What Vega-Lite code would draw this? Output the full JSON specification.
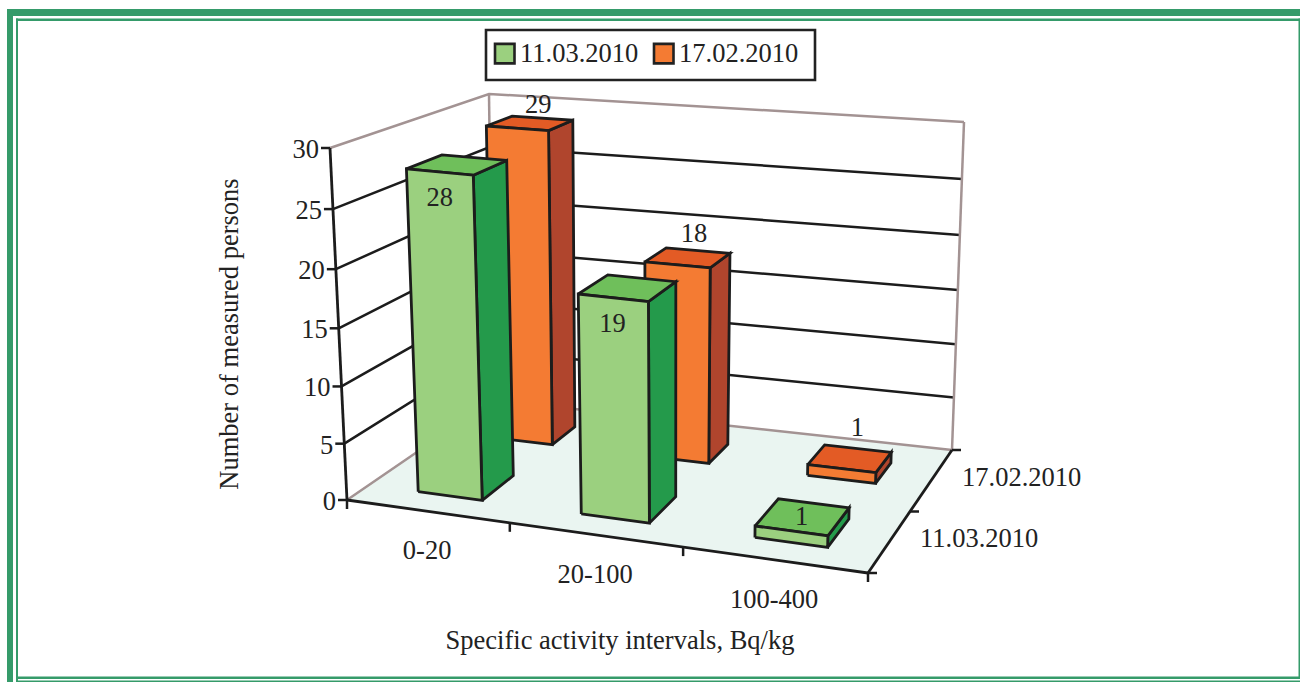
{"$schema":"https://vega.github.io/schema/vega-lite/v6.json","width":1300,"height":682,"padding":0,"autosize":{"type":"fit","contains":"padding"},"background":"white","config":{"view":{"stroke":null},"text":{"font":"Liberation Serif","fontSize":26.5,"color":"#222"}},
"datasets":{
"bars":[{"series":"17.02.2010","interval":"0-20","value":29},{"series":"17.02.2010","interval":"20-100","value":18},{"series":"17.02.2010","interval":"100-400","value":1},{"series":"11.03.2010","interval":"0-20","value":28},{"series":"11.03.2010","interval":"20-100","value":19},{"series":"11.03.2010","interval":"100-400","value":1}],
"grid":[{"value":0},{"value":5},{"value":10},{"value":15},{"value":20},{"value":25},{"value":30}],
"cats":[{"interval":"0-20","at":0.5},{"interval":"20-100","at":1.5},{"interval":"100-400","at":2.5}],
"depths":[{"series":"11.03.2010","at":0.25},{"series":"17.02.2010","at":0.75}],
"uticks":[{"at":0},{"at":1},{"at":2},{"at":3}],
"vticks":[{"at":0},{"at":0.5},{"at":1}],
"frames":[{"frame":"outerLeft"},{"frame":"outerTop"},{"frame":"innerLeft"},{"frame":"innerTop"},{"frame":"bottom"},{"frame":"bottomThin"},{"frame":"right"}]
},
"encoding":{"x":{"field":"px","type":"quantitative","scale":{"domain":[0,1300],"nice":false,"zero":false},"axis":null},"y":{"field":"py","type":"quantitative","scale":{"domain":[682,0],"nice":false,"zero":false},"axis":null}},
"layer":[
{"data":{"name":"frames"},"transform":[
{"calculate":"{outerLeft:7,outerTop:7,innerLeft:16,innerTop:16,bottom:16,bottomThin:16,right:1298.5}[datum.frame]","as":"px"},
{"calculate":"{outerLeft:13,outerTop:1300,innerLeft:18,innerTop:1300,bottom:1300,bottomThin:1300,right:1300}[datum.frame]","as":"px2"},
{"calculate":"{outerLeft:9,outerTop:9,innerLeft:18.5,innerTop:18.5,bottom:676.5,bottomThin:680.5,right:18.5}[datum.frame]","as":"py"},
{"calculate":"{outerLeft:682,outerTop:16,innerLeft:682,innerTop:21,bottom:679,bottomThin:682,right:679}[datum.frame]","as":"py2"}],
"mark":{"type":"rect","fill":"#359B6A"},"encoding":{"x2":{"field":"px2"},"y2":{"field":"py2"}}},

{"data":{"values":[{"box":"legend"}]},"transform":[{"calculate":"486","as":"px"},{"calculate":"815","as":"px2"},{"calculate":"30","as":"py"},{"calculate":"80","as":"py2"}],"mark":{"type":"rect","fill":"white","stroke":"#222","strokeWidth":2.6},"encoding":{"x2":{"field":"px2"},"y2":{"field":"py2"}}},

{"data":{"name":"grid"},"transform":[{"filter":"datum.value==0"},{"calculate":"[0,1,2,3,4]","as":"vs"},{"flatten":["vs"],"as":["vertex"]},{"calculate":"[0,3,3,0,0][datum.vertex]","as":"u"},{"calculate":"[0,0,1,1,0][datum.vertex]","as":"v"},{"calculate":"0","as":"h"},
{"calculate":"datum.u/(datum.u+1.1*(3-datum.u))","as":"tu"},{"calculate":"datum.h/(datum.h+1.05*(30-datum.h))","as":"th"},
{"calculate":"(1-datum.th)*((1-datum.v)*((1-datum.tu)*347+datum.tu*868)+datum.v*((1-datum.tu)*493+datum.tu*952))+datum.th*((1-datum.v)*((1-datum.tu)*330+datum.tu*877)+datum.v*((1-datum.tu)*489+datum.tu*964))","as":"px"},
{"calculate":"(1-datum.th)*((1-datum.v)*((1-datum.tu)*500+datum.tu*573)+datum.v*((1-datum.tu)*400+datum.tu*450))+datum.th*((1-datum.v)*((1-datum.tu)*148+datum.tu*201)+datum.v*((1-datum.tu)*94+datum.tu*122))","as":"py"}],
"mark":{"type":"line","fill":"#EAF5F1","stroke":null},"encoding":{"order":{"field":"vertex","type":"quantitative"}}},

{"data":{"name":"grid"},"transform":[{"calculate":"[0,1,2]","as":"vs"},{"flatten":["vs"],"as":["vertex"]},{"calculate":"[0,0,3][datum.vertex]","as":"u"},{"calculate":"[0,1,1][datum.vertex]","as":"v"},{"calculate":"datum.value","as":"h"},
{"calculate":"datum.u/(datum.u+1.1*(3-datum.u))","as":"tu"},{"calculate":"datum.h/(datum.h+1.05*(30-datum.h))","as":"th"},
{"calculate":"(1-datum.th)*((1-datum.v)*((1-datum.tu)*347+datum.tu*868)+datum.v*((1-datum.tu)*493+datum.tu*952))+datum.th*((1-datum.v)*((1-datum.tu)*330+datum.tu*877)+datum.v*((1-datum.tu)*489+datum.tu*964))","as":"px"},
{"calculate":"(1-datum.th)*((1-datum.v)*((1-datum.tu)*500+datum.tu*573)+datum.v*((1-datum.tu)*400+datum.tu*450))+datum.th*((1-datum.v)*((1-datum.tu)*148+datum.tu*201)+datum.v*((1-datum.tu)*94+datum.tu*122))","as":"py"},
{"calculate":"datum.value==0||datum.value==30?'#A39393':'#1c1c1c'","as":"gc"}],
"mark":{"type":"line","strokeWidth":2.5},"encoding":{"stroke":{"field":"gc","type":"nominal","scale":null,"legend":null},"detail":{"field":"value","type":"quantitative"},"order":{"field":"vertex","type":"quantitative"}}},

{"data":{"name":"uticks"},"transform":[{"filter":"datum.at==0||datum.at==3"},{"calculate":"[0,1]","as":"vs"},{"flatten":["vs"],"as":["vertex"]},{"calculate":"datum.at","as":"u"},{"calculate":"1","as":"v"},{"calculate":"datum.vertex*30","as":"h"},
{"calculate":"datum.u/(datum.u+1.1*(3-datum.u))","as":"tu"},{"calculate":"datum.h/(datum.h+1.05*(30-datum.h))","as":"th"},
{"calculate":"(1-datum.th)*((1-datum.v)*((1-datum.tu)*347+datum.tu*868)+datum.v*((1-datum.tu)*493+datum.tu*952))+datum.th*((1-datum.v)*((1-datum.tu)*330+datum.tu*877)+datum.v*((1-datum.tu)*489+datum.tu*964))","as":"px"},
{"calculate":"(1-datum.th)*((1-datum.v)*((1-datum.tu)*500+datum.tu*573)+datum.v*((1-datum.tu)*400+datum.tu*450))+datum.th*((1-datum.v)*((1-datum.tu)*148+datum.tu*201)+datum.v*((1-datum.tu)*94+datum.tu*122))","as":"py"}],
"mark":{"type":"line","strokeWidth":2.5,"stroke":"#A39393"},"encoding":{"detail":{"field":"at","type":"quantitative"},"order":{"field":"vertex","type":"quantitative"}}},

{"data":{"values":[{"edge":"height","vertex":0,"u":0,"v":0,"h":0},{"edge":"height","vertex":1,"u":0,"v":0,"h":30},{"edge":"front","vertex":0,"u":0,"v":0,"h":0},{"edge":"front","vertex":1,"u":3,"v":0,"h":0},{"edge":"side","vertex":0,"u":3,"v":0,"h":0},{"edge":"side","vertex":1,"u":3,"v":1,"h":0}]},"transform":[
{"calculate":"datum.u/(datum.u+1.1*(3-datum.u))","as":"tu"},{"calculate":"datum.h/(datum.h+1.05*(30-datum.h))","as":"th"},
{"calculate":"(1-datum.th)*((1-datum.v)*((1-datum.tu)*347+datum.tu*868)+datum.v*((1-datum.tu)*493+datum.tu*952))+datum.th*((1-datum.v)*((1-datum.tu)*330+datum.tu*877)+datum.v*((1-datum.tu)*489+datum.tu*964))","as":"px"},
{"calculate":"(1-datum.th)*((1-datum.v)*((1-datum.tu)*500+datum.tu*573)+datum.v*((1-datum.tu)*400+datum.tu*450))+datum.th*((1-datum.v)*((1-datum.tu)*148+datum.tu*201)+datum.v*((1-datum.tu)*94+datum.tu*122))","as":"py"}],
"mark":{"type":"line","strokeWidth":2.8,"stroke":"#1c1c1c"},"encoding":{"detail":{"field":"edge","type":"nominal"},"order":{"field":"vertex","type":"quantitative"}}},

{"data":{"name":"grid"},"transform":[{"calculate":"0","as":"u"},{"calculate":"0","as":"v"},{"calculate":"datum.value","as":"h"},
{"calculate":"datum.u/(datum.u+1.1*(3-datum.u))","as":"tu"},{"calculate":"datum.h/(datum.h+1.05*(30-datum.h))","as":"th"},
{"calculate":"(1-datum.th)*((1-datum.v)*((1-datum.tu)*347+datum.tu*868)+datum.v*((1-datum.tu)*493+datum.tu*952))+datum.th*((1-datum.v)*((1-datum.tu)*330+datum.tu*877)+datum.v*((1-datum.tu)*489+datum.tu*964))","as":"px"},
{"calculate":"(1-datum.th)*((1-datum.v)*((1-datum.tu)*500+datum.tu*573)+datum.v*((1-datum.tu)*400+datum.tu*450))+datum.th*((1-datum.v)*((1-datum.tu)*148+datum.tu*201)+datum.v*((1-datum.tu)*94+datum.tu*122))","as":"py"},{"calculate":"datum.px-9","as":"px2"}],
"mark":{"type":"rule","strokeWidth":2.5,"stroke":"#1c1c1c"},"encoding":{"x2":{"field":"px2"},"y2":{"field":"py"}}},

{"data":{"name":"uticks"},"transform":[{"calculate":"datum.at","as":"u"},{"calculate":"0","as":"v"},{"calculate":"0","as":"h"},
{"calculate":"datum.u/(datum.u+1.1*(3-datum.u))","as":"tu"},{"calculate":"datum.h/(datum.h+1.05*(30-datum.h))","as":"th"},
{"calculate":"(1-datum.th)*((1-datum.v)*((1-datum.tu)*347+datum.tu*868)+datum.v*((1-datum.tu)*493+datum.tu*952))+datum.th*((1-datum.v)*((1-datum.tu)*330+datum.tu*877)+datum.v*((1-datum.tu)*489+datum.tu*964))","as":"px"},
{"calculate":"(1-datum.th)*((1-datum.v)*((1-datum.tu)*500+datum.tu*573)+datum.v*((1-datum.tu)*400+datum.tu*450))+datum.th*((1-datum.v)*((1-datum.tu)*148+datum.tu*201)+datum.v*((1-datum.tu)*94+datum.tu*122))","as":"py"},{"calculate":"datum.py+9","as":"py2"}],
"mark":{"type":"rule","strokeWidth":2.5,"stroke":"#1c1c1c"},"encoding":{"x2":{"field":"px"},"y2":{"field":"py2"}}},

{"data":{"name":"vticks"},"transform":[{"calculate":"3","as":"u"},{"calculate":"datum.at","as":"v"},{"calculate":"0","as":"h"},
{"calculate":"datum.u/(datum.u+1.1*(3-datum.u))","as":"tu"},{"calculate":"datum.h/(datum.h+1.05*(30-datum.h))","as":"th"},
{"calculate":"(1-datum.th)*((1-datum.v)*((1-datum.tu)*347+datum.tu*868)+datum.v*((1-datum.tu)*493+datum.tu*952))+datum.th*((1-datum.v)*((1-datum.tu)*330+datum.tu*877)+datum.v*((1-datum.tu)*489+datum.tu*964))","as":"px"},
{"calculate":"(1-datum.th)*((1-datum.v)*((1-datum.tu)*500+datum.tu*573)+datum.v*((1-datum.tu)*400+datum.tu*450))+datum.th*((1-datum.v)*((1-datum.tu)*148+datum.tu*201)+datum.v*((1-datum.tu)*94+datum.tu*122))","as":"py"},{"calculate":"datum.px+9","as":"px2"}],
"mark":{"type":"rule","strokeWidth":2.5,"stroke":"#1c1c1c"},"encoding":{"x2":{"field":"px2"},"y2":{"field":"py"}}},

{"data":{"name":"bars"},"transform":[
{"calculate":"indexof(['0-20','20-100','100-400'],datum.interval)","as":"iu"},
{"calculate":"datum.iu+0.315","as":"u0"},{"calculate":"datum.iu+0.715","as":"u1"},
{"calculate":"datum.series=='11.03.2010'?0.15:0.68","as":"v0"},{"calculate":"datum.series=='11.03.2010'?0.385:0.85","as":"v1"},
{"calculate":"['side','top','front']","as":"faces"},{"flatten":["faces"],"as":["face"]},
{"calculate":"[0,1,2,3,4]","as":"vs"},{"flatten":["vs"],"as":["vertex"]},
{"calculate":"[0,1,1,0,0][datum.vertex]","as":"s"},{"calculate":"[0,0,1,1,0][datum.vertex]","as":"t"},
{"calculate":"datum.face=='side'?datum.u1:datum.u0+datum.s*(datum.u1-datum.u0)","as":"u"},
{"calculate":"datum.face=='front'?datum.v0:datum.face=='side'?datum.v0+datum.s*(datum.v1-datum.v0):datum.v0+datum.t*(datum.v1-datum.v0)","as":"v"},
{"calculate":"datum.face=='top'?datum.value:datum.t*datum.value","as":"h"},
{"calculate":"datum.u/(datum.u+1.1*(3-datum.u))","as":"tu"},{"calculate":"datum.h/(datum.h+1.05*(30-datum.h))","as":"th"},
{"calculate":"(1-datum.th)*((1-datum.v)*((1-datum.tu)*347+datum.tu*868)+datum.v*((1-datum.tu)*493+datum.tu*952))+datum.th*((1-datum.v)*((1-datum.tu)*330+datum.tu*877)+datum.v*((1-datum.tu)*489+datum.tu*964))","as":"px"},
{"calculate":"(1-datum.th)*((1-datum.v)*((1-datum.tu)*500+datum.tu*573)+datum.v*((1-datum.tu)*400+datum.tu*450))+datum.th*((1-datum.v)*((1-datum.tu)*148+datum.tu*201)+datum.v*((1-datum.tu)*94+datum.tu*122))","as":"py"},
{"calculate":"datum.series=='11.03.2010'?(datum.face=='side'?'#249A4B':'#6FBF5B'):(datum.face=='side'?'#B0452D':'#E35B25')","as":"faceFill"}],
"resolve":{"legend":{"fill":"independent"}},
"layer":[
{"transform":[{"filter":"datum.series=='17.02.2010'&&datum.face!='front'"}],"mark":{"type":"line","stroke":"#1c1c1c","strokeWidth":2.8,"strokeJoin":"miter"},"encoding":{"fill":{"field":"faceFill","type":"nominal","scale":null,"legend":null},"detail":[{"field":"interval"},{"field":"face"}],"order":{"field":"vertex","type":"quantitative"}}},
{"transform":[{"filter":"datum.series=='17.02.2010'&&datum.face=='front'"}],"mark":{"type":"line","stroke":"#1c1c1c","strokeWidth":2.8,"strokeJoin":"miter"},"encoding":{"fill":{"field":"series","type":"nominal","scale":{"domain":["11.03.2010","17.02.2010"],"range":["#9BD07F","#F47B33"]},"legend":{"orient":"none","legendX":481.5,"legendY":30,"direction":"horizontal","title":null,"padding":10,"labelFont":"Liberation Serif","labelFontSize":26.5,"labelColor":"#222","symbolType":"square","symbolSize":380,"symbolStrokeColor":"#222","symbolStrokeWidth":2.6,"symbolOpacity":1,"columnPadding":10,"labelOffset":2}},"detail":[{"field":"interval"},{"field":"face"}],"order":{"field":"vertex","type":"quantitative"}}},
{"transform":[{"filter":"datum.series=='11.03.2010'&&datum.face!='front'"}],"mark":{"type":"line","stroke":"#1c1c1c","strokeWidth":2.8,"strokeJoin":"miter"},"encoding":{"fill":{"field":"faceFill","type":"nominal","scale":null,"legend":null},"detail":[{"field":"interval"},{"field":"face"}],"order":{"field":"vertex","type":"quantitative"}}},
{"transform":[{"filter":"datum.series=='11.03.2010'&&datum.face=='front'"}],"mark":{"type":"line","stroke":"#1c1c1c","strokeWidth":2.8,"strokeJoin":"miter"},"encoding":{"fill":{"field":"series","type":"nominal","scale":{"domain":["11.03.2010","17.02.2010"],"range":["#9BD07F","#F47B33"]},"legend":null},"detail":[{"field":"interval"},{"field":"face"}],"order":{"field":"vertex","type":"quantitative"}}}
]},

{"data":{"name":"bars"},"transform":[
{"calculate":"indexof(['0-20','20-100','100-400'],datum.interval)+(datum.series=='17.02.2010'&&datum.value>1?0.49:0.51)","as":"u"},
{"calculate":"datum.series=='11.03.2010'?(datum.value>1?0.15:0.27):0.85","as":"v"},
{"calculate":"datum.series=='17.02.2010'?datum.value+2.0-0.03*datum.value:(datum.value>1?datum.value-2.2:datum.value)","as":"h"},
{"calculate":"datum.u/(datum.u+1.1*(3-datum.u))","as":"tu"},{"calculate":"datum.h/(datum.h+1.05*(30-datum.h))","as":"th"},
{"calculate":"(1-datum.th)*((1-datum.v)*((1-datum.tu)*347+datum.tu*868)+datum.v*((1-datum.tu)*493+datum.tu*952))+datum.th*((1-datum.v)*((1-datum.tu)*330+datum.tu*877)+datum.v*((1-datum.tu)*489+datum.tu*964))","as":"px"},
{"calculate":"(1-datum.th)*((1-datum.v)*((1-datum.tu)*500+datum.tu*573)+datum.v*((1-datum.tu)*400+datum.tu*450))+datum.th*((1-datum.v)*((1-datum.tu)*148+datum.tu*201)+datum.v*((1-datum.tu)*94+datum.tu*122))","as":"py"}],
"mark":{"type":"text","baseline":"middle","align":"center"},"encoding":{"text":{"field":"value","type":"quantitative"}}},

{"data":{"name":"grid"},"transform":[{"calculate":"0","as":"u"},{"calculate":"0","as":"v"},{"calculate":"datum.value","as":"h"},
{"calculate":"datum.u/(datum.u+1.1*(3-datum.u))","as":"tu"},{"calculate":"datum.h/(datum.h+1.05*(30-datum.h))","as":"th"},
{"calculate":"(1-datum.th)*((1-datum.v)*((1-datum.tu)*347+datum.tu*868)+datum.v*((1-datum.tu)*493+datum.tu*952))+datum.th*((1-datum.v)*((1-datum.tu)*330+datum.tu*877)+datum.v*((1-datum.tu)*489+datum.tu*964))","as":"px"},
{"calculate":"(1-datum.th)*((1-datum.v)*((1-datum.tu)*500+datum.tu*573)+datum.v*((1-datum.tu)*400+datum.tu*450))+datum.th*((1-datum.v)*((1-datum.tu)*148+datum.tu*201)+datum.v*((1-datum.tu)*94+datum.tu*122))","as":"py"}],
"mark":{"type":"text","align":"right","baseline":"middle","dx":-11,"dy":2},"encoding":{"text":{"field":"value","type":"quantitative"}}},

{"data":{"name":"cats"},"transform":[{"calculate":"datum.at","as":"u"},{"calculate":"0","as":"v"},{"calculate":"0","as":"h"},
{"calculate":"datum.u/(datum.u+1.1*(3-datum.u))","as":"tu"},{"calculate":"datum.h/(datum.h+1.05*(30-datum.h))","as":"th"},
{"calculate":"(1-datum.th)*((1-datum.v)*((1-datum.tu)*347+datum.tu*868)+datum.v*((1-datum.tu)*493+datum.tu*952))+datum.th*((1-datum.v)*((1-datum.tu)*330+datum.tu*877)+datum.v*((1-datum.tu)*489+datum.tu*964))","as":"px"},
{"calculate":"(1-datum.th)*((1-datum.v)*((1-datum.tu)*500+datum.tu*573)+datum.v*((1-datum.tu)*400+datum.tu*450))+datum.th*((1-datum.v)*((1-datum.tu)*148+datum.tu*201)+datum.v*((1-datum.tu)*94+datum.tu*122))","as":"py"}],
"mark":{"type":"text","align":"center","baseline":"middle","dy":40},"encoding":{"text":{"field":"interval","type":"nominal"}}},

{"data":{"name":"depths"},"transform":[{"calculate":"3","as":"u"},{"calculate":"datum.at","as":"v"},{"calculate":"0","as":"h"},
{"calculate":"datum.u/(datum.u+1.1*(3-datum.u))","as":"tu"},{"calculate":"datum.h/(datum.h+1.05*(30-datum.h))","as":"th"},
{"calculate":"(1-datum.th)*((1-datum.v)*((1-datum.tu)*347+datum.tu*868)+datum.v*((1-datum.tu)*493+datum.tu*952))+datum.th*((1-datum.v)*((1-datum.tu)*330+datum.tu*877)+datum.v*((1-datum.tu)*489+datum.tu*964))","as":"px"},
{"calculate":"(1-datum.th)*((1-datum.v)*((1-datum.tu)*500+datum.tu*573)+datum.v*((1-datum.tu)*400+datum.tu*450))+datum.th*((1-datum.v)*((1-datum.tu)*148+datum.tu*201)+datum.v*((1-datum.tu)*94+datum.tu*122))","as":"py"}],
"mark":{"type":"text","align":"left","baseline":"middle","dx":31,"dy":-3},"encoding":{"text":{"field":"series","type":"nominal"}}},

{"data":{"values":[{"label":"Specific activity intervals, Bq/kg"}]},"transform":[{"calculate":"620","as":"px"},{"calculate":"641","as":"py"}],"mark":{"type":"text","align":"center","baseline":"middle"},"encoding":{"text":{"field":"label"}}},
{"data":{"values":[{"label":"Number of measured persons"}]},"transform":[{"calculate":"230","as":"px"},{"calculate":"334","as":"py"}],"mark":{"type":"text","align":"center","baseline":"middle","angle":270},"encoding":{"text":{"field":"label"}}}
]}
